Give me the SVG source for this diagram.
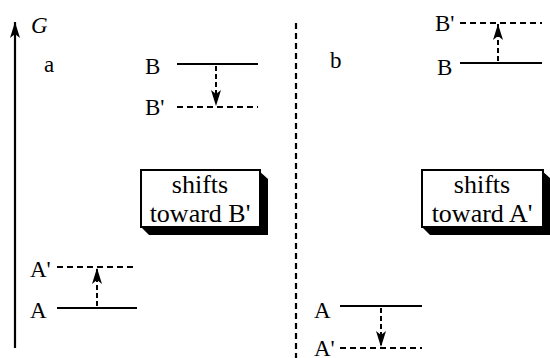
<svg xmlns="http://www.w3.org/2000/svg" width="550" height="358" viewBox="0 0 550 358" font-family="Liberation Serif, Times New Roman, serif" font-size="23">
<defs>
<style>
.solid{stroke:#000;stroke-width:2.2;fill:none}
.dash{stroke:#000;stroke-width:2.2;fill:none;stroke-dasharray:6 4}
.stem{stroke:#000;stroke-width:2;fill:none;stroke-dasharray:5 3}
.box{fill:#fff;stroke:#000;stroke-width:2}
.shadow{fill:#000}
</style>
<marker id="ah" viewBox="0 0 16 10" refX="16" refY="5" markerWidth="16" markerHeight="10" markerUnits="userSpaceOnUse" orient="auto">
<path d="M0,0 L16,5 L0,10 L4,5 Z" fill="#000"/>
</marker>
</defs>
<g id="axis">
<line x1="15" y1="348" x2="15" y2="22" class="solid" marker-end="url(#ah)"/>
<text x="31" y="33" font-style="italic" font-size="23">G</text>
</g>
<g id="divider">
<line x1="296" y1="23" x2="296" y2="358" class="dash" stroke-width="2.5"/>
</g>
<g id="panel-a">
<text x="44" y="72">a</text>
<g id="level-B-a">
<text x="145" y="74">B</text>
<line x1="177" y1="64" x2="258" y2="64" class="solid"/>
</g>
<g id="level-Bp-a">
<text x="145" y="115">B'</text>
<line x1="177" y1="107" x2="258" y2="107" class="dash"/>
</g>
<g id="level-Ap-a">
<text x="30" y="277">A'</text>
<line x1="57" y1="267" x2="137" y2="267" class="dash"/>
</g>
<g id="level-A-a">
<text x="30" y="318">A</text>
<line x1="57" y1="308" x2="137" y2="308" class="solid"/>
</g>
<g id="box-a">
<polygon class="shadow" points="258,170 268,179 268,235 149,235 141,227"/>
<rect class="box" x="141" y="170" width="119" height="57"/>
<text x="200" y="193" text-anchor="middle" font-size="26">shifts</text>
<text x="200" y="222" text-anchor="middle" font-size="26">toward B'</text>
</g>
</g>
<g id="panel-b">
<text x="330" y="68">b</text>
<g id="level-Bp-b">
<text x="435" y="31">B'</text>
<line x1="460" y1="23" x2="542" y2="23" class="dash"/>
</g>
<g id="level-B-b">
<text x="437" y="75">B</text>
<line x1="460" y1="63" x2="542" y2="63" class="solid"/>
</g>
<g id="level-A-b">
<text x="314" y="318">A</text>
<line x1="340" y1="306" x2="422" y2="306" class="solid"/>
</g>
<g id="level-Ap-b">
<text x="314" y="356">A'</text>
<line x1="340" y1="348" x2="422" y2="348" class="dash"/>
</g>
<g id="box-b">
<polygon class="shadow" points="541,170 551,179 551,235 430,235 422,227"/>
<rect class="box" x="422" y="170" width="121" height="57"/>
<text x="482" y="193" text-anchor="middle" font-size="26">shifts</text>
<text x="482" y="222" text-anchor="middle" font-size="26">toward A'</text>
</g>
</g>
<g id="connectors">
<line x1="216" y1="66" x2="216" y2="106" class="stem" marker-end="url(#ah)"/>
<line x1="97" y1="306" x2="97" y2="268" class="stem" marker-end="url(#ah)"/>
<line x1="498" y1="61" x2="498" y2="24" class="stem" marker-end="url(#ah)"/>
<line x1="381" y1="308" x2="381" y2="347" class="stem" marker-end="url(#ah)"/>
</g>
</svg>
